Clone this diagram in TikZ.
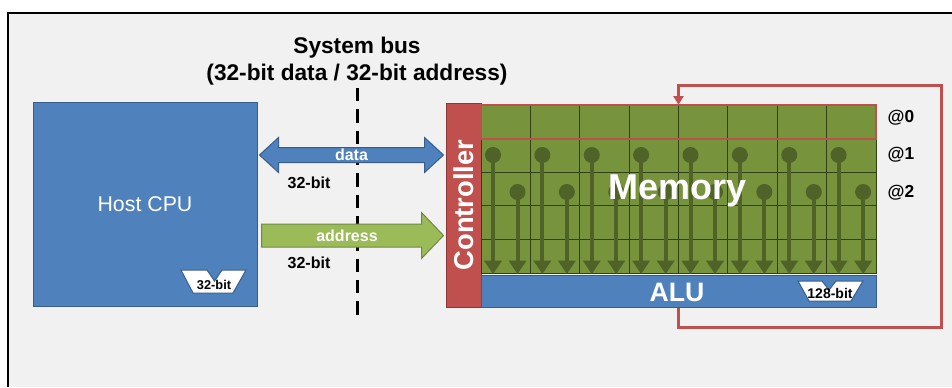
\documentclass[tikz,border=0pt]{standalone}
\usepackage{fontspec}
\setmainfont{Liberation Sans}
\usepackage{tikz}
\usetikzlibrary{arrows.meta, positioning, calc}
\definecolor{cpublue}{RGB}{79,129,189}
\definecolor{cpuedge}{RGB}{56,93,138}
\definecolor{ctrlred}{RGB}{192,80,77}
\definecolor{ctrledge}{RGB}{140,56,54}
\definecolor{memgreen}{RGB}{119,147,60}
\definecolor{gridgreen}{RGB}{50,64,24}
\definecolor{colgreen}{RGB}{79,98,40}
\definecolor{addrgreen}{RGB}{155,187,89}
\definecolor{addredge}{RGB}{113,137,63}
\definecolor{panelgray}{RGB}{241,241,241}

\begin{document}
\begin{tikzpicture}[
    x=0.75pt, y=-0.75pt,
    unit/.style={rectangle, inner sep=0pt, line width=0.75pt, draw=cpuedge, fill=cpublue, text=white},
    ctrlbox/.style={rectangle, inner sep=0pt, line width=0.75pt, draw=ctrledge, fill=ctrlred},
    membox/.style={rectangle, inner sep=0pt, draw=gridgreen, fill=memgreen, minimum width=296.25pt, minimum height=126pt},
    gridline/.style={draw=gridgreen, line width=0.6pt},
    colarrow/.style={draw=colgreen, line width=3pt, -{Triangle[width=12.75pt, length=10pt]}},
    coldot/.style={fill=colgreen},
    databus/.style={draw=cpuedge, fill=cpublue, line width=0.75pt},
    addrbus/.style={draw=addredge, fill=addrgreen, line width=0.75pt},
    badge/.style={draw=cpuedge, fill=white, line width=0.75pt},
    buslabel/.style={font=\fontsize{12}{14}\selectfont\bfseries},
    addrlabel/.style={font=\fontsize{13}{15}\selectfont\bfseries},
    busline/.style={line width=2.25pt, dash pattern=on 10pt off 6pt},
    loopline/.style={draw=ctrlred, line width=2.25pt, -{Triangle[width=7.5pt, length=6.5pt]}}
]
\useasboundingbox (0,0) rectangle (952,387);

% Panel
\fill[white] (0,0) rectangle (952,387);
\fill[panelgray] (8,13) rectangle (952,387);
\draw[line width=1.5pt] (8,387) -- (8,13) -- (952,13);

% Title of the bus
\node[align=center, font=\fontsize{17}{20.3}\selectfont\bfseries] (title) at (357,61.5) {System bus\\(32-bit data / 32-bit address)};
\draw[busline] (357,88) -- (357,318);

% Host side
\node[unit, minimum width=168pt, minimum height=153pt, font=\fontsize{16}{18}\selectfont] (cpu) at (145,204.5) {Host CPU};
\draw[badge] (181,270) -- (207,270) -- (214.5,281) -- (222,270) -- (246,270) -- (233,293) -- (193,293) -- cycle;
\node[font=\fontsize{9.6}{11}\selectfont\bfseries, inner sep=0pt] (cpuwidth) at (214,284.5) {32-bit};

% Memory side
\node[ctrlbox, minimum width=26.25pt, minimum height=153pt] (ctrl) at (463.5,205) {};
\node[rotate=90, text=white, font=\fontsize{20.5}{23}\selectfont\bfseries] at (ctrl.center) {Controller};

\node[membox] (mem) at (678.5,189) {};
\foreach \c in {1,...,7}
    \draw[gridline] (481+\c*49.375,105) -- (481+\c*49.375,273);
\foreach \r in {1,...,4}
    \draw[gridline] (481,105+\r*33.6) -- (876,105+\r*33.6);

% Columns read out towards the ALU
\foreach \c in {0,...,7} {
    \pgfmathsetmacro{\xl}{481+\c*49.375+12}
    \pgfmathsetmacro{\xr}{481+\c*49.375+36.5}
    \fill[coldot] (\xl,155) circle (6pt);
    \draw[colarrow] (\xl,155) -- (\xl,274);
    \fill[coldot] (\xr,192) circle (6pt);
    \draw[colarrow] (\xr,192) -- (\xr,274);
}
\draw[draw=ctrlred, line width=2pt] (481,105) rectangle (876,139);
\node[text=white, font=\fontsize{27}{30}\selectfont\bfseries] (memlabel) at (678,191) {Memory};

\node[unit, minimum width=296.25pt, minimum height=24pt] (alu) at (678.5,291) {};
\node[text=white, font=\fontsize{20}{22}\selectfont\bfseries] (alulabel) at (677,292) {ALU};
\draw[badge] (798,281) -- (822,281) -- (829,290) -- (836,281) -- (863,281) -- (851,301) -- (809,301) -- cycle;
\node[font=\fontsize{10.5}{12}\selectfont\bfseries, inner sep=0pt] (aluwidth) at (830,293.5) {128-bit};

% Row addresses
\node[addrlabel] (row0) at (901,118) {@0};
\node[addrlabel] (row1) at (901,155) {@1};
\node[addrlabel] (row2) at (901,193) {@2};

% Bus between host and controller
\coordinate (dataL) at ($(cpu.east |- 0,155)+(2,0)$);
\coordinate (dataR) at ($(ctrl.west |- 0,155)+(-2,0)$);
\draw[databus] (dataL) -- ++(19,-17.5) -- ++(0,10) -- ($(dataR)+(-19,-7.5)$) -- ++(0,-10) -- (dataR)
    -- ++(-19,17.5) -- ++(0,-10) -- ($(dataL)+(19,7.5)$) -- ++(0,10) -- cycle;
\node[buslabel, text=white] (datalabel) at ($(dataL)!0.5!(dataR)$) {data};
\node[buslabel] (datawidth) at (309,183) {32-bit};

\coordinate (addrL) at ($(cpu.east |- 0,235.5)+(4,0)$);
\coordinate (addrR) at ($(ctrl.west |- 0,235.5)+(-2,0)$);
\draw[addrbus] ($(addrL)+(0,-11.5)$) -- ($(addrR)+(-22,-11.5)$) -- ++(0,-11.5) -- (addrR) -- ++(-22,23)
    -- ++(0,-11.5) -- ($(addrL)+(0,11.5)$) -- cycle;
\node[buslabel, text=white] (addrlabel) at (347,235.5) {address};
\node[buslabel] (addrwidth) at (309,263) {32-bit};

% Result written back to row 0
\draw[loopline] (alu.south) -- ++(0,20) -| (941,85) -| (mem.north);

\end{tikzpicture}
\end{document}
